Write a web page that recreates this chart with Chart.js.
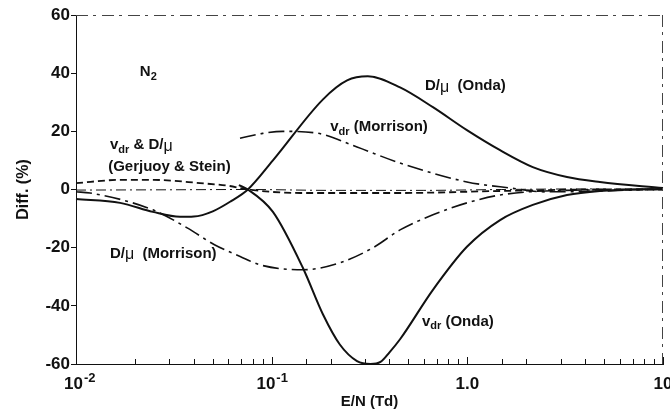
<!DOCTYPE html>
<html lang="en">
<head>
<meta charset="UTF-8">
<script src="https://cdn.jsdelivr.net/npm/chart.js"></script>
<title>N2 Diff. (%)</title>
<style>
  html, body { margin: 0; padding: 0; background: #fff; }
  #wrap { width: 670px; height: 412px; }
</style>
</head>
<body>
<div id="wrap"><canvas id="grafico"></canvas></div>
<script>
// E/N (Td) and difference (%) for each curve
const dmuOndaX = [0.01, 0.0168, 0.0247, 0.034, 0.04, 0.05, 0.062, 0.0756, 0.1015, 0.183, 0.243, 0.31, 0.453, 0.667, 0.995, 1.47, 2.16, 3.23, 4.76, 10];
const dmuOndaY = [-3.3, -4.6, -7.7, -9.4, -9.3, -7.5, -4, 0, 10, 31, 37.5, 38.9, 35.1, 28.3, 20.4, 13.5, 7.7, 4.3, 2.6, 0.5];

const vdrOndaX = [0.068, 0.0756, 0.1015, 0.1445, 0.183, 0.223, 0.273, 0.32, 0.36, 0.40, 0.453, 0.667, 0.995, 1.47, 2.16, 3.23, 4.76, 10];
const vdrOndaY = [1.5, 0, -7.7, -27, -43, -53.3, -59, -60, -59.3, -56, -51.5, -34.5, -19.7, -10.5, -5.3, -1.9, -0.5, 0.3];

const vdrMorrisonX = [0.0689, 0.09, 0.114, 0.17, 0.273, 0.453, 0.995, 1.66, 2.5, 5, 10];
const vdrMorrisonY = [17.6, 19.3, 20, 19.4, 14.6, 9.1, 2.6, 0.5, -0.8, -0.5, 0.3];

const dmuMorrisonX = [0.01, 0.0118, 0.0247, 0.037, 0.051, 0.069, 0.087, 0.1445, 0.223, 0.33, 0.453, 0.667, 0.995, 1.47, 2.5, 10];
const dmuMorrisonY = [-0.8, -1.2, -7, -13.2, -19, -23, -25.9, -27.6, -25.2, -20, -13.9, -8.7, -4.6, -1.9, -0.5, 0];

const gsX = [0.01, 0.0168, 0.025, 0.043, 0.061, 0.076, 0.14, 0.45, 1.5, 4.8, 10];
const gsY = [2.2, 3.3, 3.3, 2.2, 1.2, 0, -1.2, -1.2, -0.5, 0, 0];

const gs2X = [0.01, 0.03, 0.076, 0.2, 0.6, 1.5, 4, 10];
const gs2Y = [-0.2, -0.1, 0, -0.3, -0.3, 0, 0.2, 0];

const xMajor = [0.01, 0.1, 1, 10];
const xMajorBase = ['10', '10', '1.0', '10'];
const xMajorExp = ['-2', '-1', '', ''];
const yTicks = [-60, -40, -20, 0, 20, 40, 60];

const FONT = '"Liberation Sans", Arial, sans-serif';
const INK = '#111';

function pts(xs, ys) {
    return xs.map((x, i) => ({ x: x, y: ys[i] }));
}

function curve(xs, ys, width, dash) {
    return {
        data: pts(xs, ys),
        showLine: true,
        borderColor: INK,
        borderWidth: width,
        borderDash: dash,
        pointRadius: 0,
        cubicInterpolationMode: 'monotone',
        clip: 4
    };
}

// text labels, placed in data coordinates (left edge, vertical middle)
const notes = [
    { x: 0.0212, y: 40.3, runs: [['N'], ['2', 'sub']] },
    { x: 0.607, y: 35.5, runs: [['D/'], ['\u03bc', 'mu'], ['  (Onda)']] },
    { x: 0.199, y: 21.4, runs: [['v'], ['dr', 'sub'], [' (Morrison)']] },
    { x: 0.0149, y: 15.2, runs: [['v'], ['dr', 'sub'], [' & D/'], ['\u03bc', 'mu']] },
    { x: 0.0146, y: 7.7, runs: [['(Gerjuoy & Stein)']] },
    { x: 0.0149, y: -22.1, runs: [['D/'], ['\u03bc', 'mu'], ['  (Morrison)']] },
    { x: 0.586, y: -45.4, runs: [['v'], ['dr', 'sub'], [' (Onda)']] }
];

function drawRuns(ctx, runs, x, y, size) {
    let cx = x;
    runs.forEach(r => {
        const kind = r[1];
        if (kind === 'sub') {
            ctx.font = 'bold ' + Math.round(size * 0.72) + 'px ' + FONT;
            ctx.fillText(r[0], cx, y + size * 0.3);
        } else if (kind === 'mu') {
            ctx.font = (size + 1) + 'px ' + FONT;
            ctx.fillText(r[0], cx, y + 1);
        } else {
            ctx.font = 'bold ' + size + 'px ' + FONT;
            ctx.fillText(r[0], cx, y);
        }
        cx += ctx.measureText(r[0]).width;
    });
}

const decor = {
    id: 'decor',
    afterDraw(chart) {
        const ctx = chart.ctx;
        const a = chart.chartArea;
        const xs = chart.scales.x;
        const ys = chart.scales.y;
        ctx.save();

        // broken top and right frame lines
        ctx.strokeStyle = '#444';
        ctx.lineWidth = 1;
        ctx.setLineDash([12, 5, 3, 6]);
        ctx.beginPath();
        ctx.moveTo(a.left, a.top + 0.5);
        ctx.lineTo(a.right, a.top + 0.5);
        ctx.moveTo(a.right - 0.5, a.top);
        ctx.lineTo(a.right - 0.5, a.bottom);
        ctx.stroke();
        ctx.setLineDash([]);

        // x tick marks pointing up into the plot
        ctx.strokeStyle = INK;
        xs.ticks.forEach(t => {
            const px = Math.round(xs.getPixelForValue(t.value)) + 0.5;
            const major = xMajor.includes(t.value);
            ctx.beginPath();
            ctx.moveTo(px, a.bottom);
            ctx.lineTo(px, a.bottom - (major ? 7 : 5));
            ctx.stroke();
        });

        // x tick labels with exponents
        ctx.fillStyle = INK;
        ctx.textBaseline = 'middle';
        ctx.textAlign = 'left';
        xMajor.forEach((v, i) => {
            ctx.font = 'bold 17px ' + FONT;
            const wb = ctx.measureText(xMajorBase[i]).width;
            ctx.font = 'bold 13px ' + FONT;
            const we = ctx.measureText(xMajorExp[i]).width;
            const px = xs.getPixelForValue(v);
            let left = px - (wb + we) / 2;
            if (i === 0) left = px - 12;
            const yy = a.bottom + 20;
            ctx.font = 'bold 17px ' + FONT;
            ctx.fillText(xMajorBase[i], left, yy);
            ctx.font = 'bold 13px ' + FONT;
            ctx.fillText(xMajorExp[i], left + wb + 1, yy - 6);
        });

        // curve labels
        notes.forEach(n => {
            drawRuns(ctx, n.runs, xs.getPixelForValue(n.x), ys.getPixelForValue(n.y), 15);
        });
        ctx.restore();
    }
};

new Chart(document.getElementById('grafico'), {
    type: 'scatter',
    data: {
        datasets: [
            curve(dmuOndaX, dmuOndaY, 2, []),
            curve(vdrOndaX, vdrOndaY, 2, []),
            curve(vdrMorrisonX, vdrMorrisonY, 1.6, [16, 5, 3, 5]),
            curve(dmuMorrisonX, dmuMorrisonY, 1.6, [16, 5, 3, 5]),
            curve(gsX, gsY, 1.8, [7, 4]),
            curve(gs2X, gs2Y, 1, [10, 4, 2, 4])
        ]
    },
    options: {
        responsive: true,
        maintainAspectRatio: false,
        animation: false,
        layout: { padding: { left: 0, right: 7, top: 15, bottom: 0 } },
        plugins: {
            legend: { display: false },
            tooltip: { enabled: false }
        },
        scales: {
            x: {
                type: 'logarithmic',
                min: 0.01,
                max: 10,
                grid: { display: false },
                border: { display: true, color: INK, width: 1 },
                ticks: { display: false },
                title: {
                    display: true,
                    text: 'E/N (Td)',
                    color: INK,
                    font: { family: FONT, size: 15, weight: 'bold' },
                    padding: { top: 0, bottom: 1 }
                },
                afterFit(scale) { scale.height = 48; }
            },
            y: {
                min: -60,
                max: 60,
                afterBuildTicks(scale) { scale.ticks = yTicks.map(v => ({ value: v })); },
                grid: { drawOnChartArea: false, tickLength: 5, color: INK },
                border: { display: true, color: INK, width: 1 },
                ticks: {
                    color: INK,
                    padding: 1,
                    font: { family: FONT, size: 17, weight: 'bold' }
                },
                title: {
                    display: true,
                    text: 'Diff. (%)',
                    color: INK,
                    font: { family: FONT, size: 16, weight: 'bold' },
                    padding: { top: 14, bottom: 0 }
                },
                afterFit(scale) { scale.width = 76; }
            }
        }
    },
    plugins: [decor]
});
</script>
</body>
</html>
